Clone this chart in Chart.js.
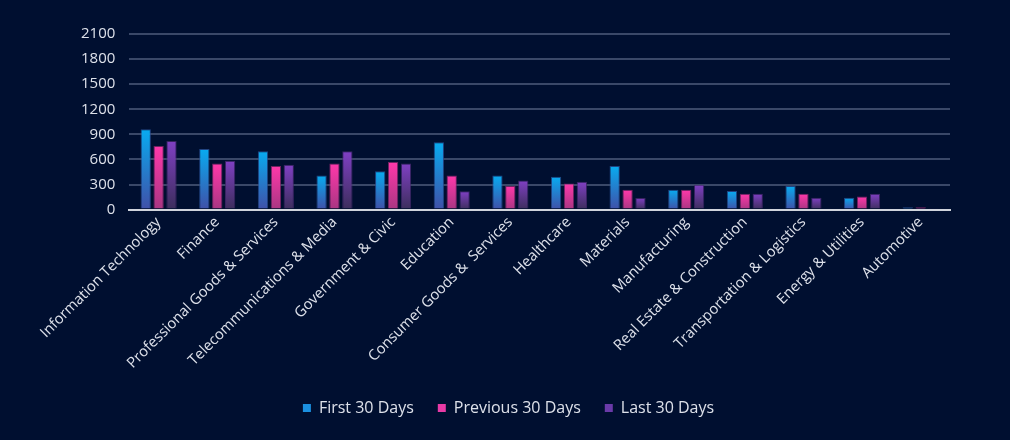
<!DOCTYPE html>
<html>
<head>
<meta charset="utf-8">
<script src="https://cdn.jsdelivr.net/npm/chart.js@4.4.1/dist/chart.umd.min.js"></script>
<style>
  html, body { margin: 0; padding: 0; background: #000f30; }
  #wrap { width: 1010px; height: 440px; }
</style>
</head>
<body>
<div id="wrap"><canvas id="industryChart"></canvas></div>
<script>
const categories = ['Information Technology', 'Finance', 'Professional Goods & Services', 'Telecommunications & Media',
    'Government & Civic', 'Education', 'Consumer Goods &  Services', 'Healthcare', 'Materials', 'Manufacturing',
    'Real Estate & Construction', 'Transportation & Logistics', 'Energy & Utilities', 'Automotive'];
const first30 = [962, 726, 698, 407, 458, 805, 407, 392, 521, 238, 221, 283, 142, 28];
const previous30 = [761, 552, 521, 552, 569, 407, 281, 313, 238, 238, 189, 189, 157, 28];
const last30 = [820, 584, 537, 698, 552, 218, 348, 333, 139, 297, 189, 142, 189, 16];
const yTicks = [0, 300, 600, 900, 1200, 1500, 1800, 2100];

// per-bar vertical gradient, from the bar top down to zero
function barGradient(top, bottom) {
    return function (ctx) {
        const chart = ctx.chart;
        if (!chart.chartArea || ctx.parsed === undefined) return top;
        const y = chart.scales.y;
        const y0 = y.getPixelForValue(0);
        const y1 = y.getPixelForValue(ctx.parsed.y);
        if (!isFinite(y1) || y0 - y1 < 1) return top;
        const g = chart.ctx.createLinearGradient(0, y1, 0, y0);
        g.addColorStop(0, top);
        g.addColorStop(1, bottom);
        return g;
    };
}

Chart.defaults.font.family = '"Open Sans", "DejaVu Sans", sans-serif';
Chart.defaults.color = '#dde1ea';

const ctx = document.getElementById('industryChart').getContext('2d');
new Chart(ctx, {
    type: 'bar',
    data: {
        labels: categories,
        datasets: [{
            label: 'First 30 Days',
            data: first30,
            backgroundColor: barGradient('#08abf0', '#4050a8'),
            borderColor: 'rgba(40, 80, 150, 0.8)',
            borderWidth: 1
        }, {
            label: 'Previous 30 Days',
            data: previous30,
            backgroundColor: barGradient('#ff38aa', '#a83682'),
            borderColor: 'rgba(140, 40, 110, 0.8)',
            borderWidth: 1
        }, {
            label: 'Last 30 Days',
            data: last30,
            backgroundColor: barGradient('#8040c4', '#3c2e5c'),
            borderColor: 'rgba(70, 40, 110, 0.8)',
            borderWidth: 1
        }]
    },
    options: {
        responsive: true,
        maintainAspectRatio: false,
        animation: false,
        layout: {
            padding: { left: 67, right: 60, top: 34, bottom: 14 }
        },
        datasets: {
            bar: {
                categoryPercentage: 0.66,
                barPercentage: 0.8
            }
        },
        scales: {
            x: {
                grid: { display: false, drawTicks: false },
                border: { color: '#d0d4dc', width: 2 },
                ticks: {
                    color: '#dde1ea',
                    font: { size: 14.7 },
                    minRotation: 45,
                    maxRotation: 45,
                    autoSkip: false,
                    padding: 4
                }
            },
            y: {
                min: 0,
                max: 2100,
                afterBuildTicks: function (axis) {
                    axis.ticks = yTicks.map(v => ({ value: v }));
                },
                grid: { color: '#3a4868', lineWidth: 2, drawTicks: false },
                border: { display: false },
                ticks: {
                    color: '#dde1ea',
                    font: { size: 15 },
                    padding: 14,
                    callback: v => String(v)
                }
            }
        },
        plugins: {
            legend: {
                position: 'bottom',
                labels: {
                    color: '#dde1ea',
                    font: { size: 16 },
                    boxWidth: 8,
                    boxHeight: 8,
                    padding: 24,
                    generateLabels: function (chart) {
                        const fills = ['#1b90e0', '#e83aa6', '#6a3aa8'];
                        return chart.data.datasets.map((ds, i) => ({
                            text: ds.label,
                            fillStyle: fills[i],
                            strokeStyle: fills[i],
                            lineWidth: 0,
                            fontColor: '#dde1ea',
                            datasetIndex: i,
                            hidden: !chart.isDatasetVisible(i)
                        }));
                    }
                }
            },
            tooltip: { enabled: false }
        }
    }
});
</script>
</body>
</html>
